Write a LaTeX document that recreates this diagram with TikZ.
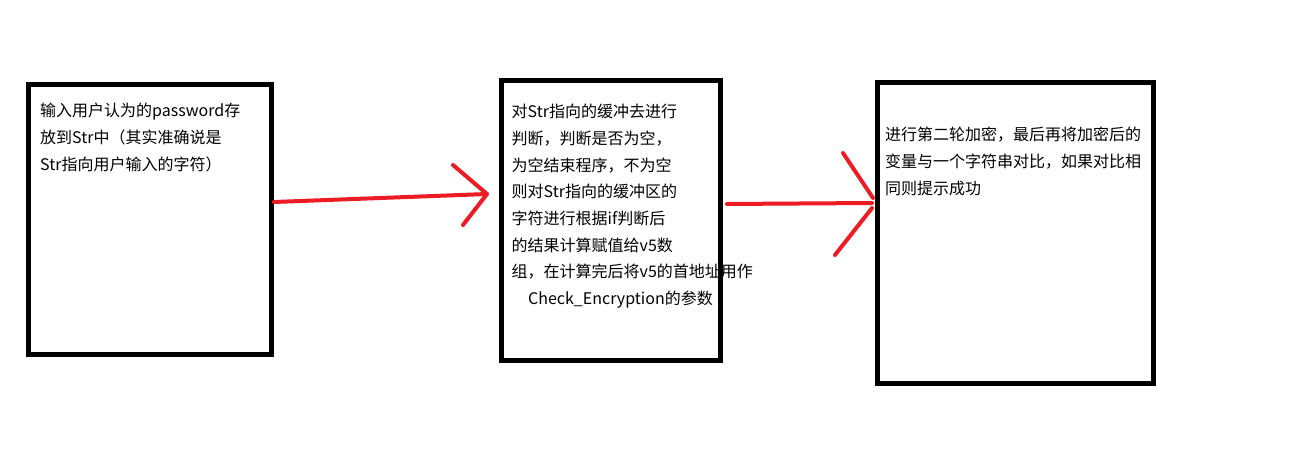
\documentclass[tikz,border=0pt]{standalone}
\usepackage{fontspec}
\setmainfont{Noto Sans CJK SC}
\usepackage{tikz}
\definecolor{paintred}{RGB}{237,28,36}

\begin{document}
\begin{tikzpicture}[x=1pt,y=-1pt,
    box/.style={draw,line width=5pt,inner sep=0pt},
    note/.style={anchor=north west,inner sep=0pt,align=left,font=\fontsize{16pt}{26.7pt}\selectfont},
    redline/.style={draw=paintred,line width=4pt,line cap=round,line join=round}]
  \useasboundingbox[fill=white] (0,0) rectangle (1301,454);
  \node[box,minimum width=243.5pt,minimum height=269.9pt] (b1) at (149.75,219.75) {};
  \node[box,minimum width=218.8pt,minimum height=280pt] (b2) at (610.9,220.8) {};
  \node[box,minimum width=276.5pt,minimum height=300.5pt] (b3) at (1015.25,232.75) {};
  \node[note] (t1) at (40,103) {输入用户认为的password存\\放到Str中（其实准确说是\\Str指向用户输入的字符）};
  \node[note] (t2) at (511.5,104) {对Str指向的缓冲去进行\\判断，判断是否为空，\\为空结束程序，不为空\\则对Str指向的缓冲区的\\字符进行根据if判断后\\的结果计算赋值给v5数\\组，在计算完后将v5的首地址用作\\\hspace*{16.5pt}Check\_Encryption的参数};
  \node[note] (t3) at (885,127) {进行第二轮加密，最后再将加密后的\\变量与一个字符串对比，如果对比相\\同则提示成功};
  % first arrow
  \coordinate (a1) at (274,202);
  \coordinate (a1tip) at (487,194);
  \coordinate (a1up) at (453,165);
  \coordinate (a1dn) at (463,225);
  \draw[redline] (a1) -- (a1tip);
  \draw[redline] (a1up) -- (a1tip) -- (a1dn);
  % second arrow
  \coordinate (a2) at (727,204);
  \coordinate (a2end) at (872,203);
  \coordinate (a2up) at (843,153);
  \coordinate (a2upend) at (873,198);
  \coordinate (a2dn) at (872,208);
  \coordinate (a2dnend) at (835,255);
  \draw[redline] (a2) -- (a2end);
  \draw[redline] (a2up) -- (a2upend);
  \draw[redline] (a2dn) -- (a2dnend);
\end{tikzpicture}
\end{document}
